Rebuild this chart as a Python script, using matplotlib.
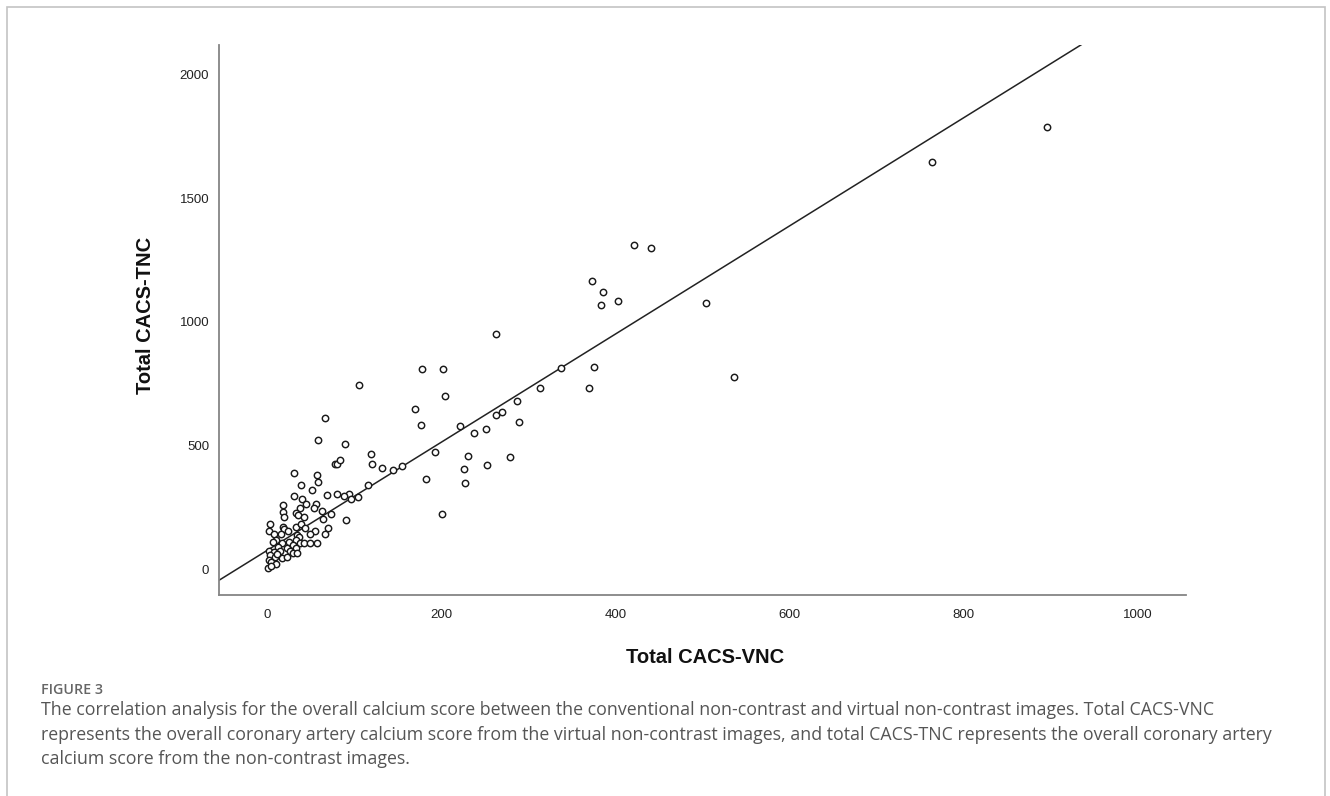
import numpy as np
import matplotlib
matplotlib.use("Agg")
import matplotlib.pyplot as plt
from matplotlib.patches import Rectangle

# Total CACS-VNC (x) vs Total CACS-TNC (y)
vnc = [421, 441, 373, 386, 384, 403, 504, 263, 178, 202, 338, 375, 313, 370, 536,
       204, 170, 287, 177, 222, 263, 270, 289, 238, 252, 193, 231, 279, 253, 226,
       155, 227, 201, 183, 763, 895,
       106, 67, 59, 90, 119, 121, 78, 81, 84, 132, 145, 31, 57, 59, 39, 116, 52,
       80, 69, 94, 88, 96, 105, 31, 40, 45, 56, 18, 18, 38, 54, 63, 73, 33, 36,
       42, 20, 64, 91, 4, 19, 20, 33, 39, 44, 70, 2, 8, 16, 24, 55, 67, 34, 37,
       49, 11, 7, 17, 25, 33, 38, 42, 49, 58, 13, 23, 30, 33, 2, 8, 15, 26, 30,
       34, 3, 9, 17, 12, 2, 5, 11, 1, 5, 23]
tnc = [1313, 1301, 1167, 1123, 1069, 1085, 1077, 951, 808, 808, 815, 818, 734, 732, 777,
       700, 648, 679, 582, 579, 625, 634, 596, 552, 567, 475, 457, 455, 420, 404,
       417, 349, 224, 366, 1647, 1791,
       746, 613, 522, 507, 466, 426, 424, 426, 440, 410, 400, 389, 381, 353, 339, 341, 320,
       304, 298, 305, 294, 283, 291, 294, 283, 262, 264, 259, 232, 248, 248, 236, 223, 226, 220,
       212, 209, 202, 197, 182, 171, 162, 171, 181, 165, 167, 155, 142, 140, 154, 155, 140, 136, 131,
       140, 119, 108, 104, 111, 117, 106, 106, 104, 106, 90, 84, 97, 84, 74, 70, 74, 74, 64,
       65, 57, 50, 43, 61, 36, 30, 21, 5, 12, 50]

# fit line shown in the figure
intercept = 75
slope = 2.19

x_ticks = [0, 200, 400, 600, 800, 1000]
y_ticks = [0, 500, 1000, 1500, 2000]

caption_lines = [
    "The correlation analysis for the overall calcium score between the conventional non-contrast and virtual non-contrast images. Total CACS-VNC",
    "represents the overall coronary artery calcium score from the virtual non-contrast images, and total CACS-TNC represents the overall coronary artery",
    "calcium score from the non-contrast images.",
]

W, H = 1330, 796
fig = plt.figure(figsize=(W / 100, H / 100), dpi=100)

# outer frame of the figure panel
fig.patches.append(Rectangle((7 / W, -0.05), (1325 - 7) / W, 1.05 - 7 / H,
                             transform=fig.transFigure, fill=False,
                             edgecolor="#c4c4c4", linewidth=1.2))

left, right, top, bottom = 219, 1186, 45, 595
ax = fig.add_axes([left / W, 1 - bottom / H, (right - left) / W, (bottom - top) / H])

xlim = (-55, 1055)
ylim = (-105, 2121)
ax.set_xlim(*xlim)
ax.set_ylim(*ylim)

xs = np.array(xlim)
ax.plot(xs, intercept + slope * xs, color="#222222", linewidth=1.1, zorder=2)
ax.scatter(vnc, tnc, s=21, facecolors="white", edgecolors="#1a1a1a",
           linewidths=1.05, zorder=3)

for side in ["top", "right"]:
    ax.spines[side].set_visible(False)
for side in ["left", "bottom"]:
    ax.spines[side].set_color("#858585")
    ax.spines[side].set_linewidth(1.3)

ax.set_xticks(x_ticks)
ax.set_yticks(y_ticks)
ax.tick_params(axis="both", length=0, labelsize=9.5, labelcolor="#222222")
ax.tick_params(axis="x", pad=10)
ax.tick_params(axis="y", pad=7)
for lab in ax.get_xticklabels() + ax.get_yticklabels():
    lab.set_family("Liberation Sans")

ax.set_xlabel("Total CACS-VNC", fontsize=14.5, fontweight="bold",
              family="Liberation Sans", color="#111111")
ax.set_ylabel("Total CACS-TNC", fontsize=14.5, fontweight="bold",
              family="Liberation Sans", color="#111111")
ax.xaxis.set_label_coords((705 - left) / (right - left), (bottom - 648) / (bottom - top))
ax.yaxis.set_label_coords((155 - left) / (right - left), (bottom - 315) / (bottom - top))

fig.text(41 / W, 1 - 690 / H, "FIGURE 3", family="Open Sans", fontweight="semibold",
         fontsize=10.3, color="#666666", va="center", ha="left")
for i, line in enumerate(caption_lines):
    fig.text(41 / W, 1 - (710 + 24.5 * i) / H, line, family="Open Sans",
             fontsize=12.8, color="#555555", va="center", ha="left")

fig.savefig("out.png", dpi=100)
